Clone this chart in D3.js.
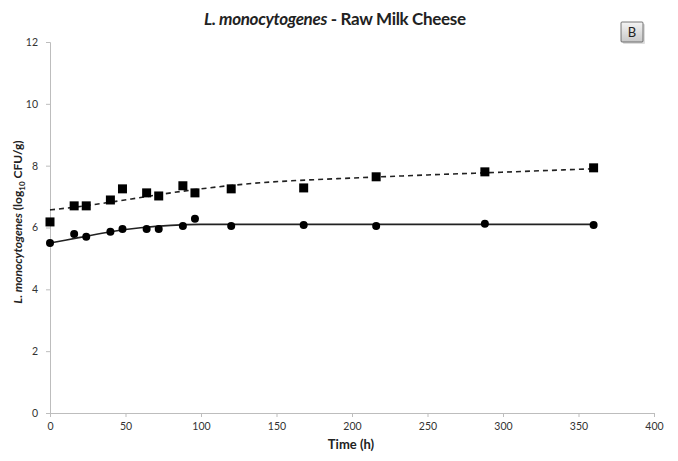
<!DOCTYPE html>
<html><head><meta charset="utf-8">
<script src="https://cdn.jsdelivr.net/npm/d3@7"></script>
<style>body{margin:0;background:#fff;} svg{display:block;font-family:Lato,"Open Sans",sans-serif;}</style>
</head><body><svg id="c" width="678" height="461"></svg>
<script>
const obsTime = [0,16,24,40,48,64,72,88,96,120,168,216,288,360];
const squareObs = [6.18,6.70,6.70,6.89,7.25,7.12,7.02,7.35,7.12,7.25,7.28,7.64,7.80,7.93];
const circleObs = [5.50,5.79,5.70,5.86,5.95,5.95,5.95,6.05,6.28,6.05,6.08,6.05,6.12,6.08];
const fitTime = [0,20,40,60,80,100,120,140,160,200,250,300,360];
const dashedFit = [6.57,6.68,6.82,6.97,7.12,7.25,7.36,7.45,7.51,7.60,7.70,7.79,7.90];
const solidFit = [5.50,5.68,5.86,5.99,6.07,6.10,6.10,6.10,6.10,6.10,6.10,6.10,6.10];
const xTicks = [0,50,100,150,200,250,300,350,400];
const yTicks = [0,2,4,6,8,10,12];

const svg = d3.select("#c");
const x = d3.scaleLinear().domain([0,400]).range([50,654]);
const y = d3.scaleLinear().domain([0,12]).range([413,42]);

const axisColor = "#bdbdbd";
const gx = svg.append("g").attr("transform","translate(0,413)")
  .call(d3.axisBottom(x).tickValues(xTicks).tickSize(4).tickPadding(6));
const gy = svg.append("g").attr("transform","translate(50,0)")
  .call(d3.axisLeft(y).tickValues(yTicks).tickSize(4).tickPadding(8));
[gx,gy].forEach(g=>{
  g.select(".domain").attr("stroke",axisColor);
  g.selectAll(".tick line").attr("stroke",axisColor);
  g.selectAll("text").attr("fill","#333").attr("font-size",10.5).attr("font-family","Lato, sans-serif");
});

const line = (ys)=>d3.line().x((d,i)=>x(fitTime[i])).y(d=>y(d)).curve(d3.curveMonotoneX)(ys);
svg.append("path").attr("d",line(dashedFit)).attr("fill","none").attr("stroke","#222")
  .attr("stroke-width",1.6).attr("stroke-dasharray","5,4");
svg.append("path").attr("d",line(solidFit)).attr("fill","none").attr("stroke","#222")
  .attr("stroke-width",1.6);

svg.append("g").selectAll("rect").data(squareObs).join("rect")
  .attr("x",(d,i)=>x(obsTime[i])-4.5).attr("y",d=>y(d)-4.5)
  .attr("width",9).attr("height",9).attr("fill","#000");
svg.append("g").selectAll("circle").data(circleObs).join("circle")
  .attr("cx",(d,i)=>x(obsTime[i])).attr("cy",d=>y(d)).attr("r",4).attr("fill","#000");

// title
const t = svg.append("text").attr("x",335).attr("y",25).attr("text-anchor","middle")
  .attr("font-size",17).attr("font-weight","bold").attr("fill","#222")
  .attr("textLength",262).attr("lengthAdjust","spacing");
t.append("tspan").attr("font-style","italic").text("L. monocytogenes");
t.append("tspan").text(" - Raw Milk Cheese");

// x label
svg.append("text").attr("x",351).attr("y",449).attr("text-anchor","middle")
  .attr("font-size",13).attr("font-weight","bold").attr("fill","#222").text("Time (h)");

// y label
const yl = svg.append("text").attr("transform","translate(22,222) rotate(-90)")
  .attr("text-anchor","middle").attr("font-size",12).attr("font-weight","bold").attr("fill","#222");
yl.append("tspan").attr("font-style","italic").text("L. monocytogenes");
yl.append("tspan").text(" (log");
yl.append("tspan").attr("font-size",8).attr("dy",3).text("10");
yl.append("tspan").attr("dy",-3).text(" CFU/g)");

// B box
const defs = svg.append("defs");
const gr = defs.append("linearGradient").attr("id","bg").attr("x1",0).attr("y1",0).attr("x2",0).attr("y2",1);
gr.append("stop").attr("offset","0%").attr("stop-color","#f4f4f4");
gr.append("stop").attr("offset","100%").attr("stop-color","#c8c8c8");
svg.append("rect").attr("x",623).attr("y",24).attr("width",22).attr("height",20).attr("fill","#ddd").attr("rx",1);
svg.append("rect").attr("x",621).attr("y",22).attr("width",22).attr("height",20)
  .attr("fill","url(#bg)").attr("stroke","#555").attr("stroke-width",0.8).attr("rx",1);
svg.append("text").attr("x",632).attr("y",37).attr("text-anchor","middle")
  .attr("font-size",13).attr("fill","#222").text("B");
</script></body></html>
